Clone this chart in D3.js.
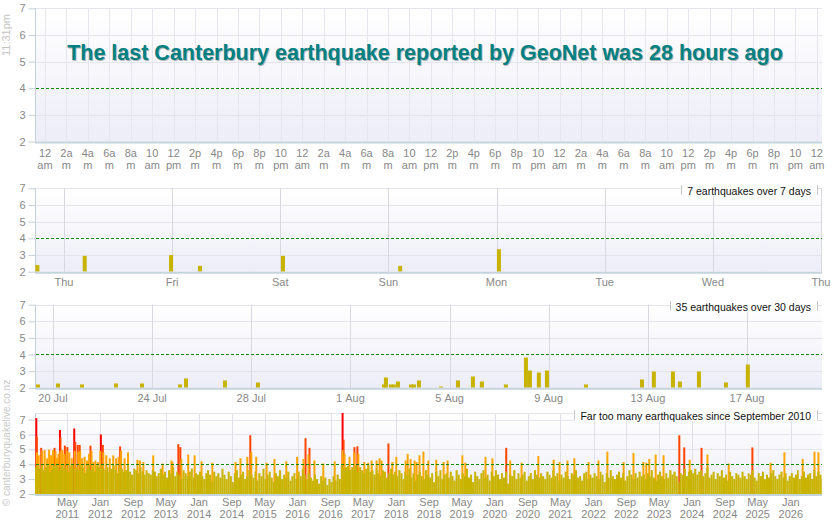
<!DOCTYPE html>
<html>
<head>
<meta charset="utf-8">
<script src="https://cdn.jsdelivr.net/npm/d3@7"></script>
<style>
  body { margin: 0; background: #fff; }
  svg text { font-family: Arial, "Liberation Sans", sans-serif; }
</style>
</head>
<body>
<svg id="chart" width="835" height="530"></svg>
<script>
// canterbury quake panels: last 72 hours, 7 days, 30 days, everything since sept 2010

// ---- data ----
const titleText = "The last Canterbury earthquake reported by GeoNet was 28 hours ago";
const nowLabel = "11:31pm";
const creditText = "\u00a9 canterburyquakelive.co.nz";

// top panel: 2 hourly tick labels (cycled over 3 days)
const hourLabels = ["12 am", "2a m", "4a m", "6a m", "8a m", "10 am", "12 pm", "2p m", "4p m", "6p m", "8p m", "10 pm"];

// 7 day panel
const dayLabels = ["Thu", "Fri", "Sat", "Sun", "Mon", "Tue", "Wed", "Thu"];
const weekTimes = ["2026-08-12 17:40", "2026-08-13 04:10", "2026-08-13 23:20", "2026-08-14 05:45", "2026-08-15 00:10", "2026-08-16 02:10", "2026-08-17 00:05"];
const weekMags = [2.4, 2.95, 3.0, 2.35, 2.95, 2.35, 3.35];
const weekLegend = "7 earthquakes over 7 days";

// 30 day panel
const monthTickLabels = ["20 Jul", "24 Jul", "28 Jul", "1 Aug", "5 Aug", "9 Aug", "13 Aug", "17 Aug"];
const monthTimes = [
  "2026-07-19 07:30", "2026-07-20 02:55", "2026-07-21 02:10", "2026-07-22 11:05", "2026-07-23 12:15",
  "2026-07-25 01:00", "2026-07-25 06:50", "2026-07-26 20:35", "2026-07-28 04:30", "2026-08-02 06:30",
  "2026-08-02 08:25", "2026-08-02 13:15", "2026-08-02 16:05", "2026-08-02 20:05", "2026-08-03 08:40",
  "2026-08-03 11:35", "2026-08-03 16:25", "2026-08-04 13:40", "2026-08-05 06:10", "2026-08-05 20:40",
  "2026-08-06 05:20", "2026-08-07 04:35", "2026-08-08 00:00", "2026-08-08 03:50", "2026-08-08 12:30",
  "2026-08-08 20:20", "2026-08-10 10:05", "2026-08-12 16:20", "2026-08-13 03:50", "2026-08-13 22:20",
  "2026-08-14 05:05", "2026-08-14 23:30", "2026-08-16 01:40", "2026-08-16 22:50"];
const monthMags = [
  2.2, 2.26, 2.2, 2.26, 2.26,
  2.2, 2.56, 2.44, 2.32, 2.2,
  2.62, 2.2, 2.2, 2.38, 2.2,
  2.2, 2.44, 2.08, 2.44, 2.68,
  2.38, 2.2, 3.82, 3.04, 2.92,
  3.04, 2.2, 2.5, 2.98, 2.98,
  2.38, 2.98, 2.32, 3.4];
const monthLegend = "35 earthquakes over 30 days";

// all time panel
const allTickMonths = ["2011-05", "2012-01", "2012-09", "2013-05", "2014-01", "2014-09", "2015-05", "2016-01",
  "2016-09", "2017-05", "2018-01", "2018-09", "2019-05", "2020-01", "2020-09", "2021-05", "2022-01",
  "2022-09", "2023-05", "2024-01", "2024-09", "2025-05", "2026-01"];
const allLegend = "Far too many earthquakes since September 2010";

// largest quake under M4 in each half month, from 1 Sep 2010
const oliveHalfMonth = [
  3.8, 3.9, 3.7, 3.9, 3.6, 3.8, 3.9, 3.5,
  3.7, 3.9, 3.9, 3.8, 3.6, 3.9, 3.7, 3.8, 3.5, 3.9, 3.9, 3.7, 3.8, 3.6, 3.9, 3.8, 3.4, 3.7, 3.9, 3.6, 3.8, 3.5, 3.9, 3.8,
  3.9, 3.7, 3.6, 3.8, 3.5, 3.7, 3.9, 3.6, 3.4, 3.8, 3.7, 3.5, 3.6, 3.9, 3.5, 3.3, 3.7, 3.6, 3.4, 3.8, 3.5, 3.3, 3.6, 3.4,
  3.3, 3.6, 3.5, 3.2, 3.4, 3.7, 3.3, 3.5, 3.1, 3.6, 3.4, 3.8, 3.2, 3.5, 3.3, 3.0, 3.6, 3.4, 3.2, 3.5, 3.7, 3.1, 3.4, 3.3,
  3.5, 3.2, 3.0, 3.4, 3.6, 3.3, 2.9, 3.5, 3.2, 3.4, 3.1, 3.7, 3.3, 3.0, 3.5, 3.2, 2.8, 3.4, 3.6, 3.1, 3.3, 3.5, 3.0, 3.2,
  3.6, 3.3, 3.1, 3.5, 2.9, 3.4, 3.2, 3.7, 3.0, 3.3, 3.5, 3.1, 2.8, 3.4, 3.2, 3.6, 3.0, 3.3, 3.1, 3.5, 2.9, 3.2, 3.4, 3.0,
  3.5, 3.2, 3.7, 3.3, 3.0, 3.4, 3.1, 2.9, 3.3, 3.0, 2.7, 3.2, 2.9, 3.1, 2.6, 3.0, 2.8, 3.2, 2.9, 3.3, 3.0, 3.9, 3.7, 3.8,
  3.9, 3.6, 3.8, 3.7, 3.9, 3.5, 3.8, 3.6, 3.4, 3.7, 3.9, 3.5, 3.6, 3.3, 3.7, 3.4, 3.2, 3.6, 3.5, 3.1, 3.4, 3.7, 3.3, 3.5,
  3.2, 3.6, 3.4, 3.0, 3.5, 3.3, 3.7, 3.1, 3.4, 2.9, 3.3, 3.5, 3.2, 3.0, 3.6, 3.3, 3.1, 3.4, 2.8, 3.5, 3.2, 3.6, 3.0, 3.3,
  3.4, 3.1, 3.5, 3.2, 2.9, 3.6, 3.3, 3.0, 3.4, 3.2, 3.7, 3.1, 3.3, 2.8, 3.5, 3.2, 3.0, 3.4, 3.6, 3.1, 3.3, 2.9, 3.5, 3.2,
  3.6, 3.3, 3.0, 3.4, 3.1, 3.5, 2.7, 3.3, 3.2, 3.6, 3.0, 3.4, 3.1, 3.3, 3.5, 2.9, 3.2, 3.4, 3.0, 3.6, 3.3, 3.1, 3.4, 3.2,
  3.0, 3.5, 3.3, 3.1, 3.6, 3.2, 3.4, 2.9, 3.3, 3.1, 3.5, 3.2, 3.0, 3.4, 3.3, 3.6, 3.1, 3.2, 2.9, 3.4, 3.5, 3.0, 3.3, 3.1,
  3.4, 3.2, 3.0, 3.5, 3.3, 2.8, 3.4, 3.1, 3.6, 3.2, 3.0, 3.3, 3.5, 3.1, 3.4, 2.9, 3.2, 3.6, 3.3, 3.0, 3.4, 3.1, 3.5, 3.2,
  3.3, 3.0, 3.4, 3.2, 3.6, 3.1, 2.9, 3.3, 3.5, 3.2, 3.0, 3.4, 3.1, 3.6, 3.3, 3.5, 3.2, 2.8, 3.4, 3.3, 3.7, 3.2, 3.5, 3.6,
  3.4, 3.7, 3.3, 3.5, 3.6, 3.2, 3.4, 3.8, 3.1, 3.3, 3.5, 3.0, 3.4, 3.2, 3.6, 3.1, 3.3, 2.9, 3.5, 3.2, 3.0, 3.4, 3.3, 3.1,
  3.5, 3.2, 3.0, 3.4, 3.3, 3.6, 3.1, 2.9, 3.4, 3.2, 3.5, 3.0, 3.3, 3.1, 3.4, 3.6, 3.2, 3.0, 3.3, 3.5, 3.1, 3.4, 2.9, 3.2,
  3.4, 3.1, 3.3, 3.6, 3.0, 3.2, 3.5, 3.1, 3.3, 3.4, 3.0, 3.6, 3.2, 3.5, 3.3, 3.0];

// M4+ quakes (decimal year, magnitude)
const bigYears = [
  2010.68, 2010.69, 2010.69, 2010.73, 2010.78, 2010.80, 2010.85, 2010.90, 2010.94, 2010.98,
  2011.02, 2011.05, 2011.07, 2011.10, 2011.13, 2011.16, 2011.17, 2011.17, 2011.21, 2011.25,
  2011.26, 2011.30, 2011.31, 2011.35, 2011.40, 2011.45, 2011.46, 2011.47, 2011.52, 2011.53,
  2011.56, 2011.57, 2011.61, 2011.66, 2011.71, 2011.75, 2011.78, 2011.80, 2011.84, 2011.88,
  2011.93, 2011.98, 2011.99, 2012.03, 2012.04, 2012.10, 2012.17, 2012.24, 2012.30, 2012.35,
  2012.38, 2012.40, 2012.47, 2012.54, 2012.73, 2012.78, 2012.85, 2013.05, 2013.24, 2013.42,
  2013.44, 2013.56, 2013.60, 2013.62, 2013.76, 2013.89, 2014.03, 2014.25, 2014.72, 2014.82,
  2014.96, 2015.02, 2015.04, 2015.14, 2015.35, 2015.51, 2015.75, 2015.97, 2016.10, 2016.14,
  2016.20, 2016.22, 2016.32, 2016.50, 2016.73, 2016.89, 2016.89, 2016.91, 2016.93, 2017.03,
  2017.13, 2017.13, 2017.19, 2017.21, 2017.33, 2017.41, 2017.48, 2017.58, 2017.64, 2017.68,
  2017.82, 2017.90, 2017.98, 2018.17, 2018.21, 2018.27, 2018.35, 2018.39, 2018.45, 2018.53,
  2018.63, 2018.79, 2018.94, 2019.02, 2019.32, 2019.38, 2019.79, 2019.93, 2020.21, 2020.29,
  2020.52, 2020.86, 2021.17, 2021.29, 2021.45, 2021.59, 2021.88, 2022.08, 2022.26, 2022.59,
  2022.79, 2022.99, 2023.05, 2023.11, 2023.24, 2023.40, 2023.72, 2023.82, 2023.93, 2024.17,
  2024.29, 2024.72, 2025.20, 2025.57, 2025.85, 2026.22, 2026.46, 2026.54];
const bigMags = [
  7.1, 5.85, 4.8, 4.6, 5.1, 4.9, 4.95, 4.4, 4.98, 4.6,
  4.95, 5.1, 4.9, 4.4, 4.7, 6.3, 5.8, 4.9, 4.95, 4.7,
  5.25, 4.9, 5.15, 4.8, 4.4, 6.4, 4.9, 5.5, 5.3, 4.85,
  5.3, 4.9, 4.4, 4.5, 4.25, 4.7, 5.25, 4.9, 4.15, 4.25,
  4.15, 4.9, 6.0, 5.3, 4.8, 4.6, 4.4, 4.6, 4.4, 4.5,
  5.2, 4.9, 4.4, 4.8, 4.3, 4.25, 4.15, 4.6, 4.05, 4.25,
  4.15, 5.35, 5.15, 4.35, 4.65, 4.6, 4.2, 4.1, 4.15, 4.4,
  4.5, 5.95, 4.8, 4.5, 4.1, 4.35, 4.2, 4.5, 4.35, 5.75,
  4.65, 5.1, 4.25, 4.05, 4.2, 7.8, 4.95, 5.65, 4.7, 4.5,
  5.15, 4.8, 5.2, 4.7, 4.15, 4.1, 4.25, 4.25, 4.4, 4.25,
  5.4, 4.15, 4.5, 4.25, 4.7, 4.35, 4.25, 4.15, 4.6, 4.85,
  4.25, 4.3, 4.15, 4.25, 4.6, 4.1, 4.5, 4.4, 5.1, 4.25,
  4.1, 4.55, 4.3, 4.15, 4.25, 4.4, 4.15, 4.25, 4.85, 4.15,
  4.75, 4.15, 4.1, 4.35, 4.65, 4.6, 5.95, 5.13, 4.3, 5.1,
  4.65, 4.05, 5.13, 4.1, 4.8, 4.35, 4.85, 4.8];

// ---- setup ----
const left = 35, right = 822;
const gold = "#c8b400";
const magColor = m => m >= 6 ? "#ff0000" : m >= 5 ? "#ff4500" : m >= 4 ? "#ffa500" : gold;
const parseTime = d3.timeParse("%Y-%m-%d %H:%M");
const parseMonth = d3.timeParse("%Y-%m");
const yearToDate = v => {
  const yr = Math.floor(v), s = new Date(yr, 0, 1), e = new Date(yr + 1, 0, 1);
  return new Date(+s + (v - yr) * (e - s));
};

const svg = d3.select("#chart");
const defs = svg.append("defs");
const grad = defs.append("linearGradient").attr("id", "bg")
  .attr("x1", 0).attr("y1", 0).attr("x2", 0).attr("y2", 1);
grad.append("stop").attr("offset", "0%").attr("stop-color", "#ffffff");
grad.append("stop").attr("offset", "100%").attr("stop-color", "#ededf8");

// builds the frame of one panel, returns scales + layers
const makePanel = (id, y7, y2, top, x, xTicks, gridColor) => {
  const y = d3.scaleLinear().domain([2, 7]).range([y2, y7]);
  const g = svg.append("g");

  defs.append("clipPath").attr("id", "clip" + id)
    .append("rect").attr("x", left).attr("y", top)
    .attr("width", right - left).attr("height", y2 - top);

  g.append("rect")
    .attr("x", left).attr("y", top)
    .attr("width", right - left).attr("height", y2 - top)
    .attr("fill", "url(#bg)");

  // horizontal grid
  g.append("g").selectAll("line")
    .data([3, 5, 6, 7])
    .enter().append("line")
    .attr("x1", left).attr("x2", right)
    .attr("y1", d => Math.round(y(d)) + 0.5).attr("y2", d => Math.round(y(d)) + 0.5)
    .attr("stroke", "#e4e4ec");
  if (top < y7 - 1) {
    g.append("line").attr("x1", left).attr("x2", right)
      .attr("y1", top + 0.5).attr("y2", top + 0.5).attr("stroke", "#e0e4e8");
  }

  // vertical grid
  g.append("g").selectAll("line")
    .data(xTicks)
    .enter().append("line")
    .attr("x1", d => Math.round(x(d)) + 0.5).attr("x2", d => Math.round(x(d)) + 0.5)
    .attr("y1", top).attr("y2", y2)
    .attr("stroke", gridColor);

  // y axis
  const yAxis = g.append("g")
    .attr("transform", "translate(" + (left + 0.5) + ",0)")
    .call(d3.axisLeft(y).tickValues([2, 3, 4, 5, 6, 7]).tickFormat(d3.format("d"))
      .tickSize(7).tickSizeOuter(0).tickPadding(3));
  yAxis.select(".domain").remove();
  yAxis.selectAll(".tick line").attr("stroke", "#c4d0d8");
  yAxis.selectAll(".tick text").attr("fill", "#888").style("font-size", "11px");
  g.append("line").attr("x1", left + 0.5).attr("x2", left + 0.5)
    .attr("y1", top).attr("y2", y2).attr("stroke", "#c4d0d8");

  const bars = svg.append("g").attr("clip-path", "url(#clip" + id + ")");
  const over = svg.append("g");

  // M4 line, drawn after bars
  const finish = () => {
    const y4 = Math.floor(y(4)) + 0.5;
    over.append("line")
      .attr("x1", left + 1).attr("x2", right)
      .attr("y1", y4).attr("y2", y4)
      .attr("stroke", "#008a00").attr("stroke-dasharray", "3,2");
    over.append("line")
      .attr("x1", left).attr("x2", right)
      .attr("y1", y2 + 1).attr("y2", y2 + 1)
      .attr("stroke", "#c4d4dc").attr("stroke-width", 2);
  };
  return { y, y2, bars, over, finish };
};

// x labels, one or two lines
const addXLabels = (panel, x, ticks, labels, baseline, lineGap) => {
  const t = panel.over.append("g").selectAll("text")
    .data(ticks)
    .enter().append("text")
    .attr("x", d => x(d))
    .attr("y", baseline)
    .attr("text-anchor", "middle")
    .attr("fill", "#888")
    .style("font-size", "11px");
  t.each(function (d, i) {
    const parts = labels[i].split(" ");
    const el = d3.select(this);
    parts.forEach((p, j) => {
      el.append("tspan").attr("x", x(d)).attr("dy", j === 0 ? 0 : lineGap).text(p);
    });
  });
};

const addLegend = (text, boxTop) => {
  const g = svg.append("g");
  const rect = g.append("rect");
  const t = g.append("text")
    .attr("x", 811).attr("y", boxTop + 9.5)
    .attr("text-anchor", "end")
    .attr("fill", "#111")
    .style("font-size", "10.5px")
    .text(text);
  const w = t.node().getComputedTextLength();
  const x0 = Math.round(811 - w - 6) + 0.5;
  rect.attr("x", x0).attr("y", boxTop).attr("width", 817 - x0).attr("height", 11).attr("fill", "#fff");
  [x0, 817.5].forEach(xx => g.append("line")
    .attr("x1", xx).attr("x2", xx).attr("y1", boxTop).attr("y2", boxTop + 10)
    .attr("stroke", "#c8c8c8"));
};

// ---- panel 1: last 72 hours ----
const xHours = d3.scaleTime()
  .domain([parseTime("2026-08-16 23:04"), parseTime("2026-08-20 00:29")])
  .range([left, right]);
const hourTicks = d3.timeHour.every(2).range(parseTime("2026-08-17 00:00"), parseTime("2026-08-20 00:01"));
const p1 = makePanel("1", 8.3, 141.5, 8.3, xHours, hourTicks, "#e6e6ee");
addXLabels(p1, xHours, hourTicks, hourTicks.map((d, i) => hourLabels[i % 12]), 156.5, 12.5);
p1.finish();

// title with a soft shadow
[["#b4b4b4", 1], ["#008080", 0]].forEach(([c, o]) => {
  svg.append("text")
    .attr("x", 425 + o).attr("y", 60 + o)
    .attr("text-anchor", "middle")
    .attr("fill", c)
    .style("font-size", "21.5px").style("font-weight", "bold")
    .text(titleText);
});

svg.append("text")
  .attr("transform", "translate(10,35) rotate(-90)")
  .attr("text-anchor", "middle")
  .attr("fill", "#c4c4c4")
  .style("font-size", "11px")
  .text(nowLabel);

// ---- panel 2: 7 days ----
const xWeek = d3.scaleTime()
  .domain([parseTime("2026-08-12 17:35"), parseTime("2026-08-20 00:13")])
  .range([left, right]);
const weekTicks = d3.timeDay.range(parseTime("2026-08-13 00:00"), parseTime("2026-08-20 00:01"));
const p2 = makePanel("2", 188.3, 271.7, 188.3, xWeek, weekTicks, "#d8d8e0");
p2.bars.selectAll("rect")
  .data(weekTimes.map((t, i) => ({ t: parseTime(t), m: weekMags[i] })))
  .enter().append("rect")
  .attr("x", d => xWeek(d.t)).attr("width", 4)
  .attr("y", d => p2.y(d.m)).attr("height", d => p2.y2 - p2.y(d.m))
  .attr("fill", d => magColor(d.m));
addXLabels(p2, xWeek, weekTicks, dayLabels, 285.5, 0);
p2.finish();
addLegend(weekLegend, 185);

// ---- panel 3: 30 days ----
const xMonth = d3.scaleTime()
  .domain([parseTime("2026-07-19 06:35"), parseTime("2026-08-20 00:35")])
  .range([left, right]);
const monthTickDates = monthTickLabels.map((l, i) => d3.timeDay.offset(parseTime("2026-07-20 00:00"), i * 4));
const p3 = makePanel("3", 304.7, 387.8, 304.7, xMonth, monthTickDates, "#d8d8e0");
p3.bars.selectAll("rect")
  .data(monthTimes.map((t, i) => ({ t: parseTime(t), m: monthMags[i] })))
  .enter().append("rect")
  .attr("x", d => xMonth(d.t)).attr("width", 4)
  .attr("y", d => p3.y(d.m)).attr("height", d => p3.y2 - p3.y(d.m))
  .attr("fill", d => magColor(d.m));
addXLabels(p3, xMonth, monthTickDates, monthTickLabels.map(l => l.replace(" ", "\u00a0")), 401.5, 0);
p3.finish();
addLegend(monthLegend, 301);

// ---- panel 4: since september 2010 ----
const xAll = d3.scaleTime()
  .domain([new Date(2010, 8, 4), new Date(2026, 7, 20)])
  .range([left, right]);
const allTicks = allTickMonths.map(parseMonth);
const p4 = makePanel("4", 419.6, 494, 413, xAll, allTicks, "#e0e0e8");

const bigQuakes = bigYears.map((v, i) => ({ t: yearToDate(v), m: bigMags[i] }))
  .sort((a, b) => b.m - a.m);
p4.bars.append("g").selectAll("rect")
  .data(bigQuakes)
  .enter().append("rect")
  .attr("x", d => xAll(d.t)).attr("width", 2)
  .attr("y", d => p4.y(d.m)).attr("height", d => p4.y2 - p4.y(d.m))
  .attr("fill", d => magColor(d.m));

const oliveBins = oliveHalfMonth.map((m, i) => {
  const mon = 8 + Math.floor(i / 2);
  const start = new Date(2010, mon, i % 2 ? 16 : 1);
  const end = i % 2 ? new Date(2010, mon + 1, 1) : new Date(2010, mon, 16);
  return { start, end, m };
});
p4.bars.append("g").selectAll("rect")
  .data(oliveBins)
  .enter().append("rect")
  .attr("x", d => xAll(d.start)).attr("width", d => xAll(d.end) - xAll(d.start))
  .attr("y", d => p4.y(d.m)).attr("height", d => p4.y2 - p4.y(d.m))
  .attr("fill", gold);

addXLabels(p4, xAll, allTicks, allTicks.map(d3.timeFormat("%b %Y")), 506, 11.5);
p4.finish();
addLegend(allLegend, 410);

svg.append("text")
  .attr("transform", "translate(10,443) rotate(-90)")
  .attr("text-anchor", "middle")
  .attr("fill", "#c8c8c8")
  .style("font-size", "10px")
  .text(creditText);
</script>
</body>
</html>
